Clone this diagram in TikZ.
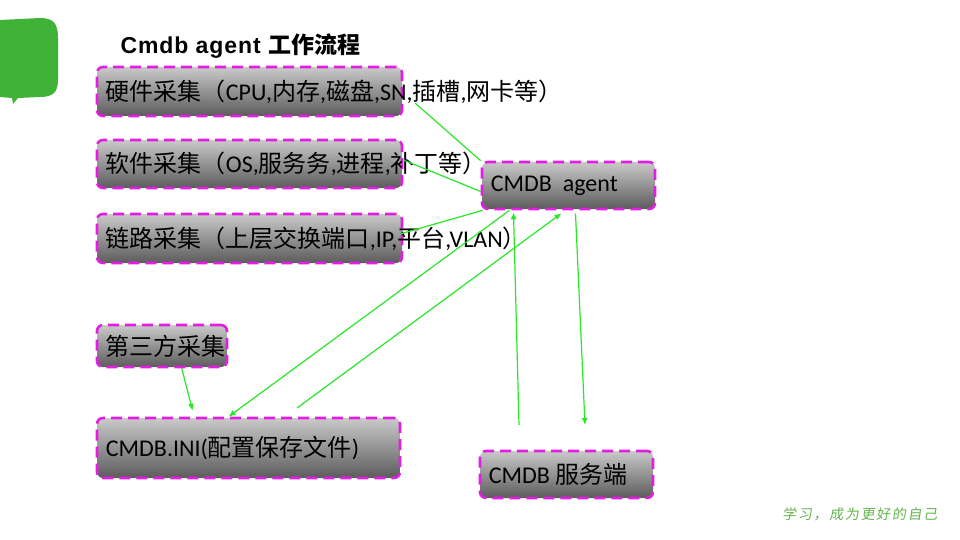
\documentclass[tikz,border=0pt]{standalone}
\usepackage{fontspec}
\setmainfont{Carlito}
\newfontfamily\cjk{Noto Sans CJK SC}
\newfontfamily\titlefont[LetterSpace=4]{Liberation Sans}
\newfontfamily\footfont[LetterSpace=12,FakeSlant=0.15]{Noto Sans CJK SC}
\usetikzlibrary{positioning,arrows.meta}
\definecolor{bubblegreen}{RGB}{64,178,56}
\definecolor{linkgreen}{RGB}{40,230,40}
\definecolor{dashpink}{RGB}{225,30,225}
\definecolor{footgreen}{RGB}{100,180,80}
\tikzset{
    every picture/.style={line join=round},
    box/.style={rectangle, rounded corners=6pt, draw=dashpink, line width=2.6pt,
        dash pattern=on 11pt off 6pt, top color=gray!42, bottom color=black!64,
        inner sep=0pt},
    boxtext/.style={anchor=west, font=\fontsize{24}{28}\selectfont, inner sep=0pt},
    link/.style={draw=linkgreen, line width=1.2pt},
    flow/.style={link, -{Latex[length=7pt,width=6pt]}}
}

\begin{document}
\begin{tikzpicture}[x=1pt,y=-1pt]
        \useasboundingbox (0,0) rectangle (960,540);

        % green bubble in the corner
        \fill[bubblegreen] (0,20) -- (40,18) .. controls (54,18) and (58,24) .. (58,38)
            -- (58,80) .. controls (58,93) and (52,97) .. (40,97)
            -- (18,98) -- (13,104) -- (12,98) -- (0,97) -- cycle;

        \node[anchor=west, font=\titlefont\bfseries\fontsize{23}{27}\selectfont] (title)
            at (117,46) {Cmdb agent {\cjk\bfseries 工作流程}};

        \node[box, minimum width=305, minimum height=49] (hw)    at (249.5, 91.5) {};
        \node[box, minimum width=305, minimum height=48] (sw)    at (249.5,164)   {};
        \node[box, minimum width=305, minimum height=49] (net)   at (249.5,238.5) {};
        \node[box, minimum width=173, minimum height=47] (agent) at (568.5,185.5) {};
        \node[box, minimum width=130, minimum height=42] (third) at (162,346)     {};
        \node[box, minimum width=303, minimum height=60] (ini)   at (248.5,448)   {};
        \node[box, minimum width=173, minimum height=47] (srv)   at (566.5,474.5) {};

        \node[boxtext] (hwtext)  at ([xshift=10pt]hw.west)
            {{\cjk 硬件采集（}CPU,{\cjk 内存},{\cjk 磁盘},SN,{\cjk 插槽},{\cjk 网卡等）}};
        \node[boxtext] (swtext)  at ([xshift=10pt]sw.west)
            {{\cjk 软件采集（}OS,{\cjk 服务务},{\cjk 进程},{\cjk 补丁等）}};
        \node[boxtext] (nettext) at ([xshift=10pt]net.west)
            {{\cjk 链路采集（上层交换端口}{,}IP,{\cjk 平台},VLAN{\cjk ）}};
        \node[boxtext] (agenttext) at ([xshift=10pt]agent.west) {CMDB\ \ agent};
        \node[boxtext] (thirdtext) at ([xshift=10pt]third.west) {\cjk 第三方采集};
        \node[boxtext] (initext)   at ([xshift=10pt]ini.west) {CMDB.INI({\cjk 配置保存文件})};
        \node[boxtext] (srvtext)   at ([xshift=10pt]srv.west) {CMDB {\cjk 服务端}};

        % free ends of the connectors
        \coordinate (hwend)   at (415,103);
        \coordinate (netend)  at (400,234);
        \coordinate (upfoot)  at (519,425);
        \coordinate (downtip) at (585,425);
        \coordinate (iniout)  at (297,408);

        \draw[link] (agent.north west) -- (hwend);
        \draw[link] ([yshift=-6pt]agent.west) -- ([yshift=4pt]sw.east);
        \draw[link] ([xshift=2pt]agent.south west) -- (netend);
        \draw[flow] ([xshift=-59pt]agent.south) -- ([xshift=-20pt]ini.north);
        \draw[flow] (iniout) -- ([xshift=-7pt,yshift=-3pt]agent.south);
        \draw[flow] (upfoot) -- ([xshift=-55pt,yshift=-2pt]agent.south);
        \draw[flow] ([xshift=7pt,yshift=-3pt]agent.south) -- (downtip);
        \draw[flow] ([xshift=86pt]third.south west) -- ([xshift=97pt,yshift=6pt]ini.north west);

        \node[anchor=east, text=footgreen, font=\footfont\fontsize{14}{16}\selectfont] (motto)
            at (941,514) {学习，成为更好的自己};
\end{tikzpicture}
\end{document}
